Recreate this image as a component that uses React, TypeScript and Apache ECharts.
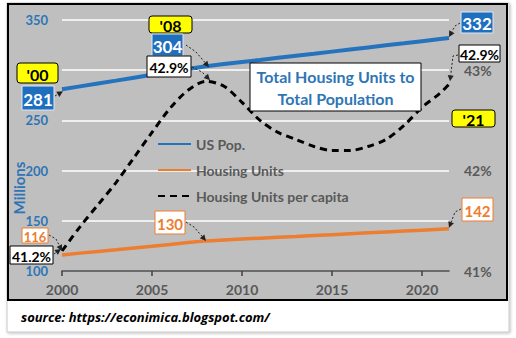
import React, { useEffect, useRef } from "react";
import * as echarts from "echarts";

// Observation dates (last one is mid-2021)
const years = [2000, 2001, 2002, 2003, 2004, 2005, 2006, 2007, 2008, 2009, 2010, 2011, 2012, 2013, 2014, 2015, 2016, 2017, 2018, 2019, 2020, 2021, 2021.5];
// US population, millions
const usPop = [281, 283.9, 286.8, 289.6, 292.5, 295.4, 298.3, 301.1, 304, 306.1, 308.2, 310.2, 312.3, 314.4, 316.4, 318.5, 320.6, 322.7, 324.8, 326.8, 328.9, 331.0, 332];
// Housing units, millions
const housingUnits = [116, 117.8, 119.5, 121.2, 123.0, 124.7, 126.5, 128.3, 130, 130.9, 131.8, 132.7, 133.6, 134.4, 135.3, 136.2, 137.1, 138.0, 138.9, 139.8, 140.7, 141.6, 142];
// Housing units per capita, %
const unitsPerCapita = [41.2, 41.44, 41.66, 41.88, 42.13, 42.38, 42.62, 42.8, 42.89, 42.84, 42.68, 42.5, 42.38, 42.31, 42.24, 42.2, 42.2, 42.24, 42.31, 42.45, 42.63, 42.77, 42.86];

const xTicks = [2000, 2005, 2010, 2015, 2020];
const hiddenLeftLabels = [300]; // covered by the '00 / 281 callouts in the original
const seriesNames = ["US Pop.", "Housing Units", "Housing Units per capita"];

const FONT = "Lato";
const BLUE = "#2E75B6";
const LINE_BLUE = "#2673BD";
const BOX_BLUE = "#1F6FBF";
const ORANGE = "#ED7D31";
const GRAY_TXT = "#595959";

function box(x0: number, y0: number, x1: number, y1: number, text: string, fill: string, stroke: string, color: string, size: number, r = 0) {
  return [
    { type: "rect", z: 100, shape: { x: x0, y: y0, width: x1 - x0, height: y1 - y0, r }, style: { fill, stroke, lineWidth: 1 } },
    {
      type: "text", z: 101, x: (x0 + x1) / 2, y: (y0 + y1) / 2 + 1,
      style: { text, fill: color, font: `bold ${size}px ${FONT}`, align: "center", verticalAlign: "middle", textAlign: "center", textVerticalAlign: "middle" },
    },
  ];
}

function arrow(pts: number[][]) {
  const n = pts.length;
  const [x2, y2] = pts[n - 1];
  const [xa, ya] = pts[n - 2];
  const ang = Math.atan2(y2 - ya, x2 - xa);
  const L = 6, W = 3;
  const bx = x2 - L * Math.cos(ang), by = y2 - L * Math.sin(ang);
  const px = -Math.sin(ang), py = Math.cos(ang);
  const linePts = pts.slice(0, n - 1).concat([[bx, by]]);
  return [
    { type: "polyline", z: 99, shape: { points: linePts }, style: { stroke: "#222", lineWidth: 1, lineDash: [2, 2], fill: null } },
    { type: "polygon", z: 99, shape: { points: [[x2, y2], [bx + px * W, by + py * W], [bx - px * W, by - py * W]] }, style: { fill: "#222" } },
  ];
}

export default function App() {
  const ref = useRef<HTMLDivElement>(null);
  useEffect(() => {
    if (!ref.current) return;
    const chart = echarts.init(ref.current, undefined, { renderer: "svg" });
    chart.setOption({
      animation: false,
      backgroundColor: "#ffffff",
      grid: { left: 62, right: 67, top: 20, bottom: 67 },
      legend: {
        orient: "vertical", left: 157, top: 137, padding: 0, itemWidth: 33, itemHeight: 14, itemGap: 12,
        itemStyle: { opacity: 0 },
        textStyle: { color: GRAY_TXT, fontWeight: "bold", fontSize: 14, fontFamily: FONT },
        data: seriesNames,
      },
      xAxis: {
        type: "value", min: 2000, max: 2021.5, interval: 5,
        axisLine: { lineStyle: { color: "#404040", width: 1.5 } },
        axisTick: { show: true, length: 5, customValues: xTicks, lineStyle: { color: "#404040", width: 1.5 } },
        axisLabel: { customValues: xTicks, color: GRAY_TXT, fontWeight: "bold", fontSize: 14, fontFamily: FONT, margin: 11, formatter: (v: number) => String(v) },
        splitLine: { show: false },
      },
      yAxis: [
        {
          type: "value", min: 100, max: 350, interval: 50,
          axisLine: { show: false }, axisTick: { show: false },
          axisLabel: {
            color: BLUE, fontWeight: "bold", fontSize: 13, fontFamily: FONT, margin: 14,
            formatter: (v: number) => (hiddenLeftLabels.includes(v) ? "" : String(v)),
          },
          splitLine: { lineStyle: { color: "#ffffff", width: 1.5 } },
        },
        {
          type: "value", min: 41, max: 43.5, interval: 0.5,
          axisLine: { show: false }, axisTick: { show: false },
          axisLabel: {
            color: GRAY_TXT, fontWeight: "bold", fontSize: 14, fontFamily: FONT, margin: 15,
            formatter: (v: number) => (Math.abs(v - Math.round(v)) < 1e-6 ? `${Math.round(v)}%` : ""),
          },
          splitLine: { show: false },
        },
      ],
      series: [
        { name: seriesNames[0], type: "line", yAxisIndex: 0, symbol: "none", data: years.map((y, i) => [y, usPop[i]]), lineStyle: { color: LINE_BLUE, width: 4 }, itemStyle: { color: LINE_BLUE } },
        { name: seriesNames[1], type: "line", yAxisIndex: 0, symbol: "none", data: years.map((y, i) => [y, housingUnits[i]]), lineStyle: { color: ORANGE, width: 3.5 }, itemStyle: { color: ORANGE } },
        { name: seriesNames[2], type: "line", yAxisIndex: 1, symbol: "none", smooth: 0.3, data: years.map((y, i) => [y, unitsPerCapita[i]]), lineStyle: { color: "#000000", width: 3, type: [7, 5] }, itemStyle: { color: "#000000" } },
      ],
    });

    const px = (s: number, i: number) => {
      const vals = s === 0 ? usPop : s === 1 ? housingUnits : unitsPerCapita;
      return chart.convertToPixel({ seriesIndex: s }, [years[i], vals[i]]) as number[];
    };
    const last = years.length - 1;
    const i08 = years.indexOf(2008);
    const p00 = px(0, 0), p08 = px(0, i08), pEnd = px(0, last);
    const h00 = px(1, 0), h08 = px(1, i08), hEnd = px(1, last);
    const c00 = px(2, 0), c08 = px(2, i08), cEnd = px(2, last);

    const bg = [
      { type: "rect", z: -10, shape: { x: 7, y: 3, width: 502, height: 329 }, style: { fill: "#ffffff", stroke: "#c8c8c8", lineWidth: 1, shadowBlur: 3, shadowColor: "rgba(0,0,0,0.25)", shadowOffsetX: 1, shadowOffsetY: 1 } },
      { type: "rect", z: -9, shape: { x: 8, y: 4, width: 499, height: 296 }, style: { fill: "#BFBFBF", stroke: "#000000", lineWidth: 2 } },
    ];

    const ann: any[] = [
      ...bg,
      {
        type: "text", z: 50, x: 19, y: 188, rotation: Math.PI / 2,
        style: { text: "Millions", fill: BLUE, font: `bold 15px ${FONT}`, align: "center", verticalAlign: "middle", textAlign: "center", textVerticalAlign: "middle" },
      },
      {
        type: "text", z: 50, x: 21, y: 317,
        style: { text: "source: https://econimica.blogspot.com/", fill: "#000000", font: `italic bold 13px "Open Sans"`, align: "left", verticalAlign: "middle", textAlign: "left", textVerticalAlign: "middle" },
      },
      // title
      { type: "rect", z: 100, shape: { x: 250, y: 63, width: 171, height: 48 }, style: { fill: "#ffffff", stroke: "#000000", lineWidth: 1 } },
      { type: "text", z: 101, x: 335.5, y: 76.5, style: { text: "Total Housing Units to", fill: BLUE, font: `bold 16px ${FONT}`, align: "center", verticalAlign: "middle", textAlign: "center", textVerticalAlign: "middle" } },
      { type: "text", z: 101, x: 335.5, y: 98.5, style: { text: "Total Population", fill: BLUE, font: `bold 16px ${FONT}`, align: "center", verticalAlign: "middle", textAlign: "center", textVerticalAlign: "middle" } },
      // 2000
      ...box(17, 63, 58, 83, "'00", "#FFFF00", "#000000", "#000000", 16, 3),
      ...box(22, 86, 54, 110, String(usPop[0]), BOX_BLUE, "#dfe8f3", "#ffffff", 17),
      ...arrow([[55, 96], [p00[0] + 1, p00[1] + 2]]),
      ...box(22, 228, 48, 243, String(housingUnits[0]), "#ffffff", ORANGE, ORANGE, 13),
      ...arrow([[49, 235], [56, 239], [h00[0], h00[1] - 4]]),
      ...box(10, 246, 53, 264, `${unitsPerCapita[0].toFixed(1)}%`, "#ffffff", "#000000", "#000000", 14),
      ...arrow([[54, 254], [c00[0] - 1, c00[1] - 2]]),
      // 2008
      ...box(149, 16, 192, 33, "'08", "#FFFF00", "#000000", "#000000", 16, 3),
      ...box(152, 34, 183, 56, String(usPop[i08]), BOX_BLUE, "#dfe8f3", "#ffffff", 17),
      ...arrow([[186, 45], [196, 52], [p08[0] + 3, p08[1] + 1]]),
      ...box(147, 56, 191, 77, `${unitsPerCapita[i08].toFixed(1)}%`, "#ffffff", "#000000", "#000000", 14),
      ...arrow([[192, 67], [202, 72], [c08[0] + 4, c08[1] - 1]]),
      ...box(155, 211, 185, 234, String(housingUnits[i08]), "#ffffff", ORANGE, ORANGE, 15),
      ...arrow([[186, 222], [194, 227], [h08[0], h08[1]]]),
      // 2021
      ...box(461, 12, 493, 33, String(usPop[last]), BOX_BLUE, "#dfe8f3", "#ffffff", 17),
      ...arrow([[460, 23], [455, 26], [pEnd[0], pEnd[1] - 1]]),
      ...box(459, 45, 500, 62, `${unitsPerCapita[last].toFixed(1)}%`, "#ffffff", "#000000", "#000000", 14),
      ...arrow([[458, 55], [453, 56], [cEnd[0] + 1, cEnd[1] - 3]]),
      ...box(452, 110, 495, 127, "'21", "#FFFF00", "#000000", "#000000", 16, 3),
      ...box(462, 198, 493, 221, String(housingUnits[last]), "#ffffff", ORANGE, ORANGE, 15),
      ...arrow([[461, 209], [455, 212], [hEnd[0], hEnd[1] - 1]]),
    ];
    chart.setOption({ graphic: { elements: ann } });
    return () => chart.dispose();
  }, []);
  return <div ref={ref} style={{ position: "absolute", left: 0, top: 0, width: 516, height: 338 }} />;
}
